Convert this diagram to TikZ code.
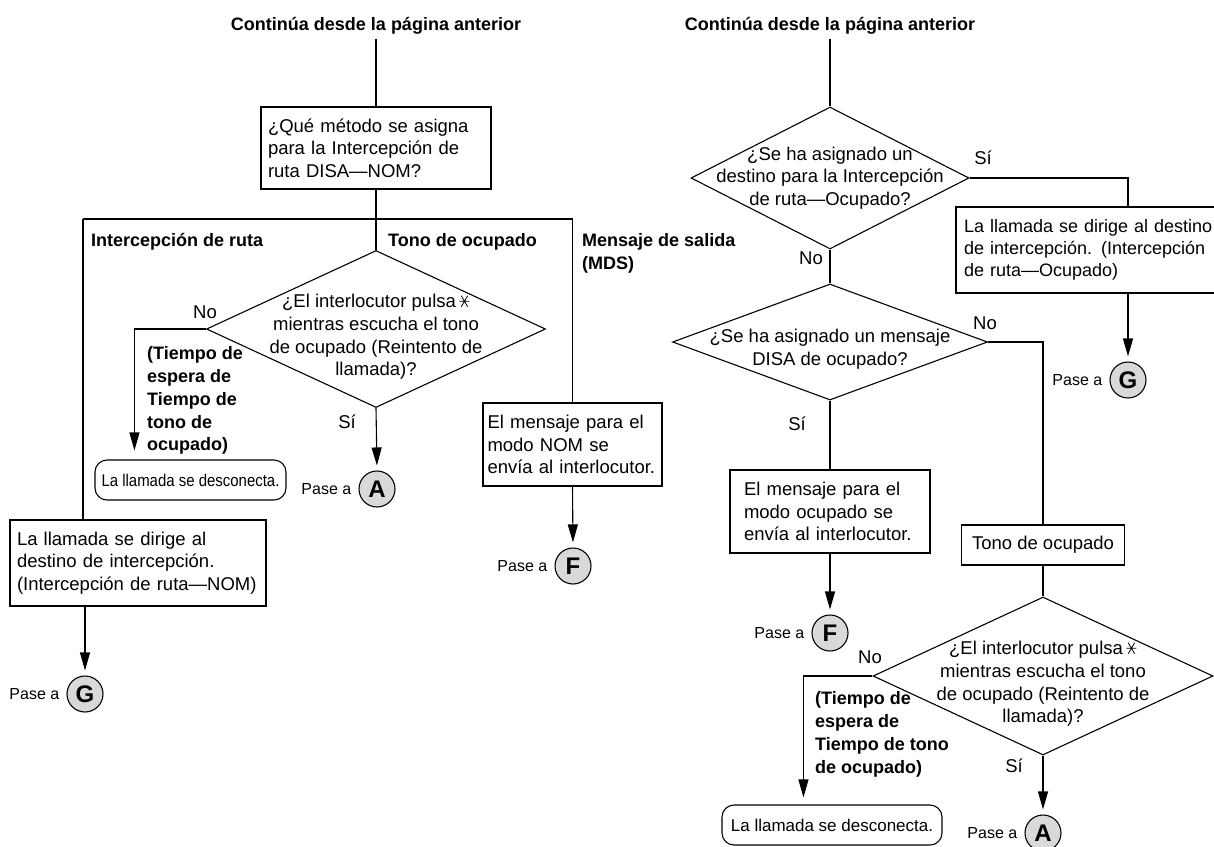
\documentclass[tikz,border=0pt]{standalone}
\usepackage{fontspec}
\setmainfont{Liberation Sans}
\usepackage{graphicx}
\usetikzlibrary{arrows.meta, positioning, calc, shapes.geometric}

\newcommand{\starkey}{\tikz[x=1pt, y=1pt, baseline=0pt, line width=0.8pt]{%
    \draw (-5,6.5) -- (5,6.5) (-3.2,1) -- (3.2,12) (-3.2,12) -- (3.2,1);}}

\tikzset{
  flow/.style={line width=1.1pt},
  box/.style={draw, line width=1.1pt, align=left, inner ysep=0pt, inner xsep=8pt},
  decide/.style={draw, diamond, line width=1.1pt, inner sep=0pt},
  endbox/.style={draw, rounded corners=12pt, line width=1.1pt, inner sep=0pt},
  go/.style={draw, circle, fill=gray!30, minimum size=36pt, inner sep=0pt,
    font=\fontsize{24}{24}\selectfont\bfseries, line width=1.1pt},
  pase/.style={font=\fontsize{16}{18}\selectfont, inner sep=0pt, xshift=-7pt},
  head/.style={font=\fontsize{18}{22.8}\selectfont\bfseries, inner sep=0pt, align=left},
  answer/.style={inner sep=0pt},
}

\begin{document}
\begin{tikzpicture}[x=1pt, y=-1pt, >={Triangle[length=18pt,width=10pt]},
    font=\fontsize{18.5}{22.7}\selectfont]
    \clip (0,0) rectangle (1214,846);

    % left column
    \node[head, anchor=base] (titleL) at (376,30.5) {Continúa desde la página anterior};
    \node[box, text width=216pt, inner xsep=7pt, minimum height=82pt] (method) at (376,148)
        {¿Qué método se asigna\\para la Intercepción de\\ruta DISA—NOM?};
    \coordinate (colL) at (83,219);
    \coordinate (colR) at (572.5,219);
    \node[head, anchor=base west] (hdRoute) at (91,246.5) {Intercepción de ruta};
    \node[head, anchor=base west] (hdBusy) at (388,246.5) {Tono de ocupado};
    \node[head, anchor=north west] (hdMsg) at (582,233.5) {Mensaje de salida\\(MDS)};

    \node[decide, minimum width=339pt, minimum height=157pt,
        label={[align=center, yshift=-8pt]center:¿El interlocutor pulsa\,\starkey\\mientras escucha el tono\\de ocupado (Reintento de\\llamada)?}]
        (retryL) at (376,329) {};
    \node[answer] (noL) at (205,312) {No};
    \node[head, anchor=north west] (waitL) at (147,346.5)
        {(Tiempo de\\espera de\\Tiempo de\\tono de\\ocupado)};
    \node[endbox, minimum width=191pt, minimum height=40pt, font=\fontsize{17}{20}\selectfont]
        (hangL) at (190.5,480) {\scalebox{0.88}[1]{La llamada se desconecta.}};
    \node[answer] (siL) at (347,422) {Sí};
    \node[go, label={[pase]left:Pase a}] (toA1) at (377,489) {A};

    \node[box, text width=242pt, inner xsep=7pt, minimum height=86pt] (routeNom) at (138,563)
        {La llamada se dirige al\\destino de intercepción.\\(Intercepción de ruta—NOM)};
    \node[go, label={[pase]left:Pase a}] (toG1) at (85,694) {G};

    \node[box, text width=170pt, inner xsep=4.5pt, minimum height=83pt] (msgNom) at (572.5,444.5)
        {El mensaje para el\\modo NOM se\\envía al interlocutor.};
    \node[go, label={[pase]left:Pase a}] (toF1) at (573,566) {F};

    \draw[flow, shorten <=4pt] (titleL.south) -- (method.north);
    \draw[flow] (method.south) -- (retryL.north);
    \draw[flow] (colL) -- (colR);
    \draw[flow] (colL) -- (colL |- routeNom.north);
    \draw[flow] (colR) -- (msgNom.north);
    \draw[flow, ->, shorten >=9pt] (retryL.west) -| ($(hangL.north west)+(40,0)$);
    \draw[flow, ->, shorten >=5pt] (retryL.south) -- (toA1.north);
    \draw[flow, ->, shorten >=5pt] (toG1 |- routeNom.south) -- (toG1.north);
    \draw[flow, ->, shorten >=5pt] (msgNom.south) -- (toF1.north);

    % right column
    \node[head, anchor=base] (titleR) at (830,30.5) {Continúa desde la página anterior};
    \node[decide, minimum width=278pt, minimum height=142pt,
        label={[align=center]center:¿Se ha asignado un\\destino para la Intercepción\\de ruta—Ocupado?}]
        (destQ) at (830,178) {};
    \node[answer] (siR1) at (983,158) {Sí};
    \node[answer] (noR1) at (811,258) {No};
    \node[box, text width=266pt, minimum height=86pt, font=\fontsize{18}{22.2}\selectfont]
        (routeBusy) at (1097,250)
        {La llamada se dirige al destino\\de intercepción. (Intercepción\\de ruta—Ocupado)};
    \node[go, label={[pase]left:Pase a}] (toG2) at (1128,380) {G};

    \node[decide, minimum width=315pt, minimum height=116pt,
        label={[align=center, yshift=-7pt]center:¿Se ha asignado un mensaje\\DISA de ocupado?}]
        (msgQ) at (830,342) {};
    \node[answer] (noR2) at (985,323) {No};
    \node[answer] (siR2) at (797,424) {Sí};
    \node[box, text width=172pt, inner xsep=14pt, minimum height=83pt] (msgBusy) at (830,511.5)
        {El mensaje para el\\modo ocupado se\\envía al interlocutor.};
    \node[go, label={[pase]left:Pase a}] (toF2) at (830,633) {F};

    \node[box, align=center, minimum width=163pt, minimum height=40pt, inner xsep=0pt] (busyTone)
        at (1043,545) {Tono de ocupado};
    \node[decide, minimum width=340pt, minimum height=158pt,
        label={[align=center, yshift=-8pt]center:¿El interlocutor pulsa\,\starkey\\mientras escucha el tono\\de ocupado (Reintento de\\llamada)?}]
        (retryR) at (1043,676) {};
    \node[answer] (noR3) at (870,657) {No};
    \node[head, anchor=north west] (waitR) at (815,691.5)
        {(Tiempo de\\espera de\\Tiempo de tono\\de ocupado)};
    \node[endbox, minimum width=220pt, minimum height=40pt, font=\fontsize{17}{20}\selectfont]
        (hangR) at (832,825) {La llamada se desconecta.};
    \node[answer] (siR3) at (1014,766) {Sí};
    \node[go, label={[pase]left:Pase a}] (toA2) at (1043,833) {A};

    \draw[flow, shorten <=4pt] (titleR.south) -- (destQ.north);
    \draw[flow] (destQ.east) -| (routeBusy.north -| toG2);
    \draw[flow, ->, shorten >=5pt] (routeBusy.south -| toG2) -- (toG2.north);
    \draw[flow] (destQ.south) -- (msgQ.north);
    \draw[flow] (msgQ.east) -| (busyTone.north);
    \draw[flow] (msgQ.south) -- (msgBusy.north);
    \draw[flow, ->, shorten >=5pt] (msgBusy.south) -- (toF2.north);
    \draw[flow] (busyTone.south) -- (retryR.north);
    \draw[flow, ->, shorten >=7pt] (retryR.west) -| ($(hangR.north west)+(82,0)$);
    \draw[flow, ->, shorten >=5pt] (retryR.south) -- (toA2.north);
\end{tikzpicture}
\end{document}
